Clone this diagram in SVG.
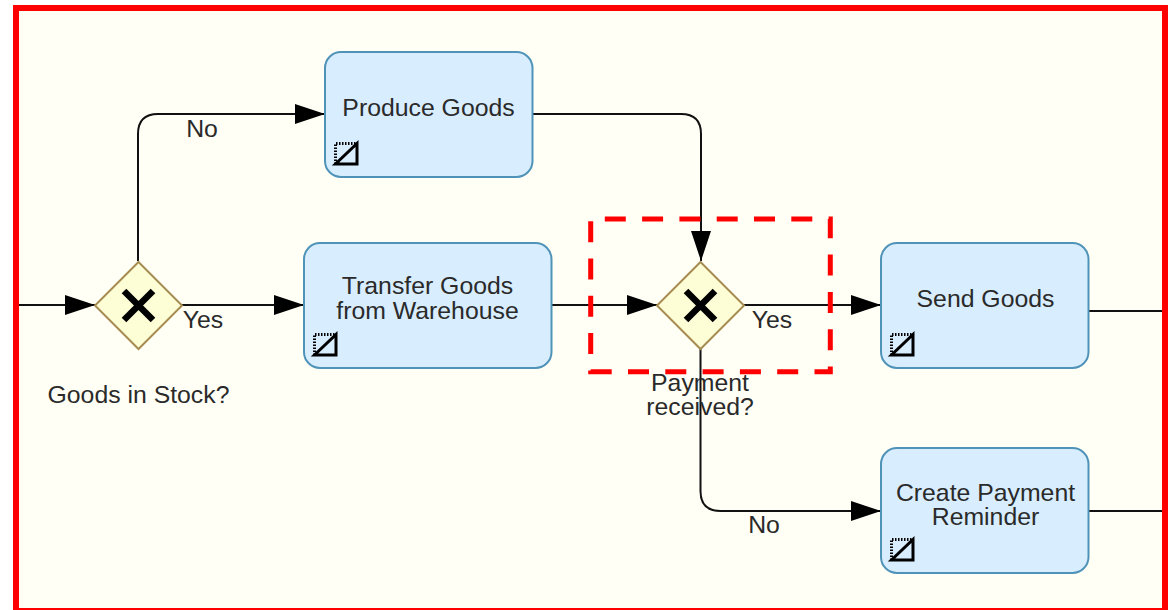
<svg xmlns="http://www.w3.org/2000/svg" width="1176" height="610" viewBox="0 0 1176 610">
<style>
text{font-family:"Liberation Sans",Arial,sans-serif;font-size:24.800px;fill:#2a2a2a;text-anchor:middle}
.task{fill:#d8edfe;stroke:#4f93b8;stroke-width:2}
.gw{fill:#fdfdd6;stroke:#a68c50;stroke-width:2}
.x{stroke:#000;stroke-width:6.500;fill:none}
.ln{fill:none;stroke:#111;stroke-width:2}
.ico{fill:none;stroke:#000;stroke-width:3}
.dot{fill:none;stroke:#000;stroke-width:3;stroke-dasharray:1.500 1.500}
</style>
<defs>
<marker id="arr" markerUnits="userSpaceOnUse" markerWidth="31" markerHeight="22" refX="30" refY="11" orient="auto"><path d="M0 1L30 11L0 21Z" fill="#000"/></marker>
<g id="icon"><path class="dot" d="M1.500 22V1.500H23"/><path class="ico" d="M23 1.500V22H1.500Z"/></g>
</defs>
<rect width="1176" height="610" fill="#fff"/>
<rect x="16" y="8" width="1149" height="603" fill="#fffff6" stroke="#f00" stroke-width="6"/>
<g id="connectors">
<path class="ln" marker-end="url(#arr)" d="M19 305H95"/>
<path class="ln" marker-end="url(#arr)" d="M138 261V134Q138 114 158 114H325"/>
<path class="ln" marker-end="url(#arr)" d="M182 305H304"/>
<path class="ln" marker-end="url(#arr)" d="M533 114H681Q701 114 701 134V261"/>
<path class="ln" marker-end="url(#arr)" d="M552 305H657"/>
<path class="ln" marker-end="url(#arr)" d="M744 305H881"/>
<path class="ln" marker-end="url(#arr)" d="M700.500 349V491Q700.500 511 720.500 511H881"/>
<path class="ln" d="M1089 311H1162"/>
<path class="ln" d="M1089 511H1162"/>
</g>
<g id="gw1"><path class="gw" d="M138.500 262L182 305.500L138.500 349L95 305.500Z"/><path class="x" d="M124 291L153 320M153 291L124 320"/></g>
<g id="gw2"><path class="gw" d="M700.500 262L744 305.500L700.500 349L657 305.500Z"/><path class="x" d="M686 291L715 320M715 291L686 320"/></g>
<g id="task-produce"><rect class="task" x="325" y="52" width="207.500" height="125" rx="16"/><use href="#icon" x="334" y="142"/><text x="428.500" y="116">Produce Goods</text></g>
<g id="task-transfer"><rect class="task" x="304" y="243" width="247.500" height="125" rx="16"/><use href="#icon" x="313" y="333"/><text x="427.500" y="294">Transfer Goods</text><text x="427.500" y="319">from Warehouse</text></g>
<g id="task-send"><rect class="task" x="881" y="243" width="207.500" height="125" rx="16"/><use href="#icon" x="890" y="333"/><text x="985.500" y="307">Send Goods</text></g>
<g id="task-reminder"><rect class="task" x="881" y="448" width="207.500" height="125" rx="16"/><use href="#icon" x="890" y="538"/><text x="985.500" y="501">Create Payment</text><text x="985.500" y="525">Reminder</text></g>
<g id="labels">
<text x="202" y="137">No</text>
<text x="203" y="328">Yes</text>
<text x="138.500" y="403">Goods in Stock?</text>
<text x="772" y="328">Yes</text>
<text x="700" y="391">Payment</text>
<text x="700" y="415">received?</text>
<text x="764" y="533">No</text>
</g>
<path id="highlight" fill="none" stroke="#f00" stroke-width="5" stroke-dasharray="21 16.300" d="M590.700 371.700H830.300V219H590.700Z"/>
</svg>
